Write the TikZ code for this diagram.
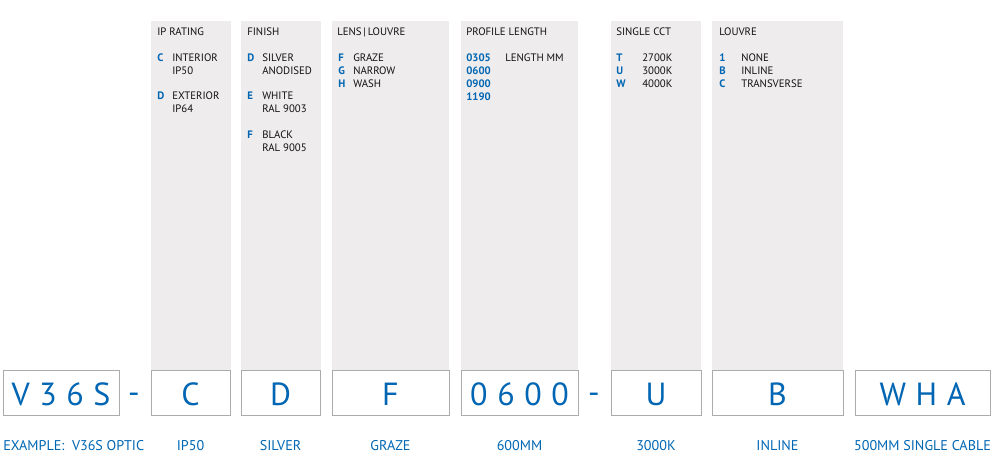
\documentclass[tikz,border=0pt]{standalone}
\usepackage{fontspec}
\setmainfont{PT Sans}
\definecolor{codeblue}{HTML}{0066B3}
\definecolor{panelgrey}{HTML}{EEECED}
\definecolor{boxgrey}{HTML}{ABABAB}
\definecolor{txtblack}{HTML}{111111}
\newcommand{\gap}{\hspace{0.3em}}
\tikzset{
  codebox/.style={draw=boxgrey, line width=0.6pt, fill=white, inner sep=0pt},
  bigcode/.style={text=codeblue, font=\fontsize{24}{24}\selectfont, anchor=base, inner sep=0pt},
  head/.style={font=\fontsize{8.1}{9}\selectfont, text=txtblack, anchor=base west, inner sep=0pt},
  key/.style={head, text=codeblue, font=\fontsize{8.1}{9}\selectfont\bfseries},
  val/.style={head},
  lbl/.style={text=codeblue, font=\fontsize{10.6}{12}\selectfont, anchor=base, inner sep=0pt}
}
\begin{document}
\begin{tikzpicture}[x=0.75pt,y=-0.75pt]
\useasboundingbox (0,0) rectangle (992,475);
% grey option panels
\foreach \a/\b in {151/231,241/321,332/449,461/578,611/701,712/843}
\fill[panelgrey] (\a,21) rectangle (\b,392);
% code boxes along the bottom
\foreach \n/\a/\b/\t in {base/3/119/V\gap 3\gap 6\gap S, ip/151/230/C, fin/241/320/D,
    lens/332/449/F, len/461/578/0\gap 6\gap 0\gap 0, cct/611/701/U, lou/712/843/B,
    cab/855/990/W\gap H\gap A}
{
\node[codebox, minimum width={(\b-\a)*0.75pt}, minimum height=33.75pt] (\n) at ({(\a+\b)/2},392.5) {};
\node[bigcode] (\n-code) at ({(\a+\b)/2},405) {\t};
}
\node[bigcode] (dash1) at (134,403) {-};
\node[bigcode] (dash2) at (594,403) {-};
% example labels
\node[lbl, anchor=base west] (base-lbl) at (3,450) {EXAMPLE:\ \ V36S OPTIC};
\node[lbl] (ip-lbl) at (190.5,450) {IP50};
\node[lbl] (fin-lbl) at (280.5,450) {SILVER};
\node[lbl] (lens-lbl) at (390.5,450) {GRAZE};
\node[lbl] (len-lbl) at (519.5,450) {600MM};
\node[lbl] (cct-lbl) at (656,450) {3000K};
\node[lbl] (lou-lbl) at (777.5,450) {INLINE};
\node[lbl] (cab-lbl) at (922.5,450) {500MM SINGLE CABLE};
% IP rating
\node[head] (ip-h) at (157,35) {IP RATING};
\node[key] (ip-c) at (157,61) {C};
\node[val] (ip-c1) at (172,61) {INTERIOR};
\node[val] (ip-c2) at (172,74) {IP50};
\node[key] (ip-d) at (157,99.5) {D};
\node[val] (ip-d1) at (172,99.5) {EXTERIOR};
\node[val] (ip-d2) at (172,112.5) {IP64};
% finish
\node[head] (fin-h) at (247,35) {FINISH};
\node[key] (fin-d) at (247,61) {D};
\node[val] (fin-d1) at (262,61) {SILVER};
\node[val] (fin-d2) at (262,74) {ANODISED};
\node[key] (fin-e) at (247,99.5) {E};
\node[val] (fin-e1) at (262,99.5) {WHITE};
\node[val] (fin-e2) at (262,112.5) {RAL 9003};
\node[key] (fin-f) at (247,138) {F};
\node[val] (fin-f1) at (262,138) {BLACK};
\node[val] (fin-f2) at (262,151) {RAL 9005};
% lens | louvre
\node[head] (lens-h) at (337,35) {LENS\,|\,LOUVRE};
\foreach \k/\v/\y in {F/GRAZE/61, G/NARROW/74, H/WASH/87}
{
\node[key] (lens-\k) at (338,\y) {\k};
\node[val] (lens-\k-v) at (353,\y) {\v};
}
% profile length
\node[head] (len-h) at (466,35) {PROFILE LENGTH};
\foreach \k/\y in {0305/61, 0600/74, 0900/87, 1190/100}
\node[key] (len-\k) at (466,\y) {\k};
\node[val] (len-mm) at (505,61) {LENGTH MM};
% single cct
\node[head] (cct-h) at (616,35) {SINGLE CCT};
\foreach \k/\v/\y in {T/2700K/61, U/3000K/74, W/4000K/87}
{
\node[key] (cct-\k) at (616,\y) {\k};
\node[val] (cct-\k-v) at (642,\y) {\v};
}
% louvre
\node[head] (lou-h) at (719,35) {LOUVRE};
\foreach \k/\v/\y in {1/NONE/61, B/INLINE/74, C/TRANSVERSE/87}
{
\node[key] (lou-\k) at (719,\y) {\k};
\node[val] (lou-\k-v) at (741,\y) {\v};
}
\end{tikzpicture}
\end{document}
